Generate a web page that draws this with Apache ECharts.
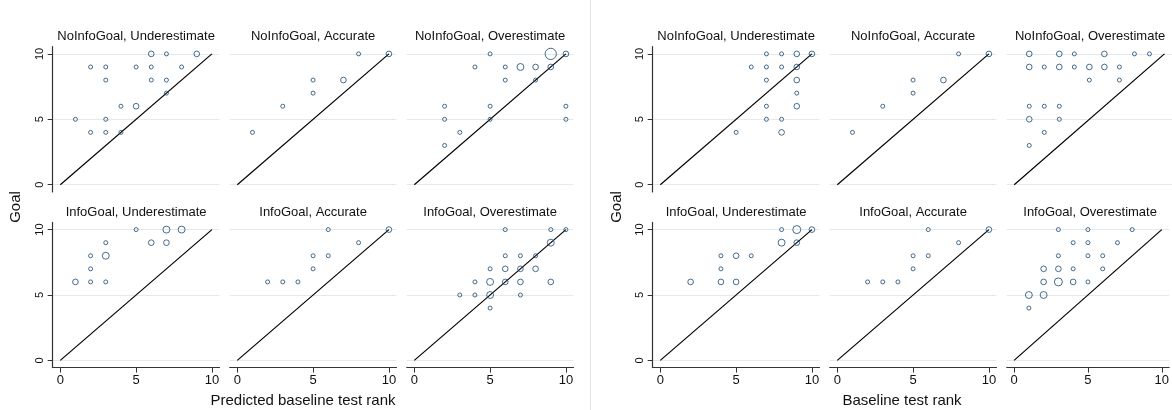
<!DOCTYPE html>
<html><head><meta charset="utf-8">
<script src="https://cdn.jsdelivr.net/npm/echarts@6/dist/echarts.min.js"></script>
<style>html,body{margin:0;padding:0;background:#fff}#c{width:1172px;height:410px}</style>
</head><body><div id="c"></div>
<script>
// ---- data ----
const tickValues = [0, 5, 10];
const diagonal = [0, 10];
const facetTitles = ["NoInfoGoal, Underestimate", "NoInfoGoal, Accurate", "NoInfoGoal, Overestimate",
                     "InfoGoal, Underestimate", "InfoGoal, Accurate", "InfoGoal, Overestimate"];
const leftXTitle = "Predicted baseline test rank";
const rightXTitle = "Baseline test rank";
const yTitle = "Goal";

// each point: [rank, goal, count]
// Left panel: predicted baseline test rank
const predNoInfoUnder = [[1,5,1],[2,9,1],[2,4,1],[3,9,1],[3,8,1],[3,5,1],[3,4,1],[4,6,1],[4,4,1],[5,9,1],[5,6,2],[6,10,2],[6,9,1],[6,8,1],[7,10,1],[7,8,1],[7,7,1],[8,9,1],[9,10,2]];
const predNoInfoAcc = [[1,4,1],[3,6,1],[5,8,1],[5,7,1],[7,8,2],[8,10,1],[10,10,2]];
const predNoInfoOver = [[2,6,1],[2,5,1],[2,3,1],[3,4,1],[4,9,1],[5,10,1],[5,6,1],[5,5,1],[6,9,1],[6,8,1],[7,9,3],[8,9,2],[8,8,1],[9,10,8],[9,9,2],[10,10,2],[10,6,1],[10,5,1]];
const predInfoUnder = [[1,6,2],[2,8,1],[2,7,1],[2,6,1],[3,9,1],[3,8,3],[3,6,1],[5,10,1],[6,9,2],[7,10,3],[7,9,2],[8,10,3]];
const predInfoAcc = [[2,6,1],[3,6,1],[4,6,1],[5,8,1],[5,7,1],[6,10,1],[6,8,1],[8,9,1],[10,10,2]];
const predInfoOver = [[3,5,1],[4,6,1],[4,5,1],[5,7,1],[5,6,3],[5,5,3],[5,4,1],[6,10,1],[6,8,1],[6,7,2],[6,6,2],[7,8,1],[7,7,2],[7,6,2],[7,5,1],[8,8,1],[8,7,2],[9,10,1],[9,9,3],[9,6,2],[10,10,1]];
// Right panel: baseline test rank
const baseNoInfoUnder = [[5,4,1],[6,9,1],[7,10,1],[7,9,1],[7,8,1],[7,6,1],[7,5,1],[8,10,1],[8,9,1],[8,5,1],[8,4,2],[9,10,2],[9,9,2],[9,8,2],[9,7,1],[9,6,2],[10,10,2]];
const baseNoInfoAcc = [[1,4,1],[3,6,1],[5,8,1],[5,7,1],[7,8,2],[8,10,1],[10,10,2]];
const baseNoInfoOver = [[1,10,2],[1,9,2],[1,6,1],[1,5,2],[1,3,1],[2,9,1],[2,6,1],[2,4,1],[3,10,2],[3,9,2],[3,6,1],[3,5,1],[4,10,1],[4,9,1],[5,9,2],[5,8,1],[6,10,2],[6,9,2],[7,9,1],[7,8,1],[8,10,1],[9,10,1]];
const baseInfoUnder = [[2,6,2],[4,8,1],[4,7,1],[4,6,2],[5,8,2],[5,6,2],[6,8,1],[8,10,1],[8,9,3],[9,10,4],[9,9,2],[10,10,2]];
const baseInfoAcc = [[2,6,1],[3,6,1],[4,6,1],[5,8,1],[5,7,1],[6,10,1],[6,8,1],[8,9,1],[10,10,2]];
const baseInfoOver = [[1,5,3],[1,4,1],[2,7,2],[2,6,2],[2,5,3],[3,10,1],[3,8,1],[3,7,2],[3,6,4],[4,9,1],[4,7,1],[4,6,2],[5,10,1],[5,9,1],[5,8,1],[5,6,1],[6,8,1],[6,7,1],[7,9,1],[8,10,1]];

const panels = [
  [predNoInfoUnder, predNoInfoAcc, predNoInfoOver, predInfoUnder, predInfoAcc, predInfoOver],
  [baseNoInfoUnder, baseNoInfoAcc, baseNoInfoOver, baseInfoUnder, baseInfoAcc, baseInfoOver]
];

// ---- layout / style ----
const FONT = 'Liberation Sans, Arial, Helvetica, sans-serif';
const panelLeft = [52.7, 652.7];
const colStep = 177;
const rowTop = [46.7, 222.4];
const gw = 166.8, gh = 145.2;
const navy = '#1a476f';

const grids = [], xAxes = [], yAxes = [], series = [], graphics = [];
let gi = 0;
panels.forEach((facets, p) => {
  facets.forEach((pts, f) => {
    const r = Math.floor(f / 3), c = f % 3;
    const left = panelLeft[p] + c * colStep, top = rowTop[r];
    grids.push({left: left, top: top, width: gw, height: gh, containLabel: false});
    const bottomRow = r === 1, firstCol = c === 0;
    xAxes.push({
      type: 'value', gridIndex: gi, min: -0.5, max: 10.5,
      axisLine: {show: bottomRow, onZero: false, lineStyle: {color: '#333', width: 1.2}},
      axisTick: {show: bottomRow, length: 5, customValues: tickValues, lineStyle: {color: '#333'}},
      axisLabel: {show: bottomRow, customValues: tickValues, fontSize: 13, color: '#111', fontFamily: FONT, margin: 6},
      splitLine: {show: false}
    });
    yAxes.push({
      type: 'value', gridIndex: gi, min: -0.55, max: 10.55,
      axisLine: {show: firstCol, onZero: false, lineStyle: {color: '#333', width: 1.2}},
      axisTick: {show: firstCol, length: 5, customValues: tickValues, lineStyle: {color: '#333'}},
      axisLabel: {show: firstCol, customValues: tickValues, rotate: 90, fontSize: 11, color: '#111', fontFamily: FONT, margin: 7},
      splitLine: {show: true, lineStyle: {color: '#e3eaed', width: 1}}
    });
    series.push({
      type: 'line', xAxisIndex: gi, yAxisIndex: gi,
      data: diagonal.map(d => [d, d]),
      symbol: 'none', silent: true,
      lineStyle: {color: '#000', width: 1.2}, z: 2
    });
    series.push({
      type: 'scatter', xAxisIndex: gi, yAxisIndex: gi,
      data: pts,
      symbol: 'circle',
      symbolSize: v => 4 * Math.sqrt(v[2]),
      itemStyle: {color: 'rgba(0,0,0,0)', borderColor: navy, borderWidth: 1},
      emphasis: {disabled: true}, silent: true, z: 3
    });
    graphics.push({
      type: 'text', x: left + gw / 2, y: top - 10, silent: true,
      style: {text: facetTitles[f], align: 'center', verticalAlign: 'middle', fontSize: 13, fontFamily: FONT, fill: '#111'}
    });
    gi++;
  });
});

// axis titles
graphics.push({type: 'text', x: 303, y: 401, style: {text: leftXTitle, align: 'center', verticalAlign: 'middle', fontSize: 15, fontFamily: FONT, fill: '#111'}});
graphics.push({type: 'text', x: 902, y: 401, style: {text: rightXTitle, align: 'center', verticalAlign: 'middle', fontSize: 15, fontFamily: FONT, fill: '#111'}});
graphics.push({type: 'text', x: 16, y: 207, rotation: Math.PI / 2, style: {text: yTitle, align: 'center', verticalAlign: 'middle', fontSize: 15, fontFamily: FONT, fill: '#111'}});
graphics.push({type: 'text', x: 617, y: 207, rotation: Math.PI / 2, style: {text: yTitle, align: 'center', verticalAlign: 'middle', fontSize: 15, fontFamily: FONT, fill: '#111'}});
// panel separator
graphics.push({type: 'line', shape: {x1: 590.5, y1: 0, x2: 590.5, y2: 410}, style: {stroke: '#e6e6e6', lineWidth: 1}, silent: true});

const chart = echarts.init(document.getElementById('c'), null, {renderer: 'canvas'});
chart.setOption({
  animation: false,
  backgroundColor: '#fff',
  grid: grids, xAxis: xAxes, yAxis: yAxes, series: series,
  graphic: graphics
});
</script></body></html>
